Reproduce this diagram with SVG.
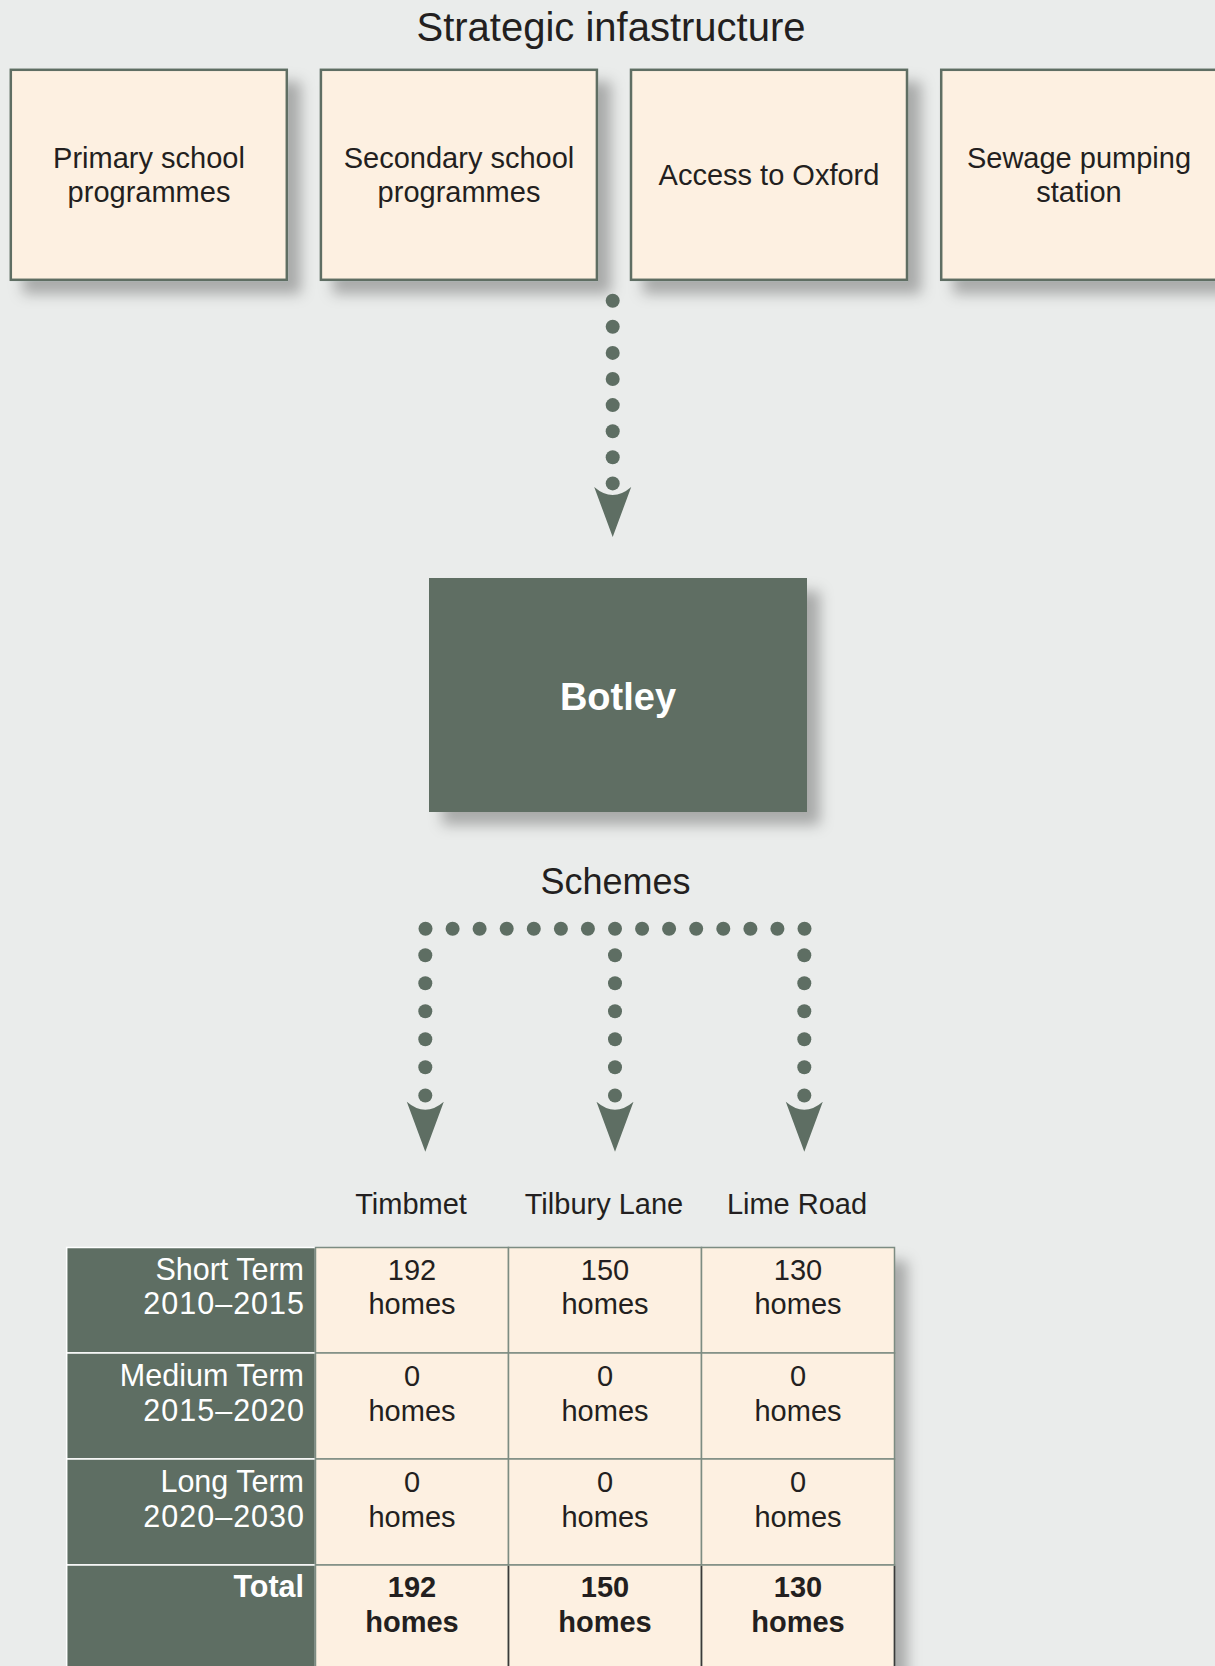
<svg xmlns="http://www.w3.org/2000/svg" width="1215" height="1666" viewBox="0 0 1215 1666">
<defs>
<filter id="sh" x="-10%" y="-10%" width="130%" height="130%">
<feGaussianBlur in="SourceAlpha" stdDeviation="7"/>
<feOffset dx="13" dy="13" result="b"/>
<feFlood flood-color="#000" flood-opacity="0.28"/>
<feComposite in2="b" operator="in"/>
<feMerge><feMergeNode/><feMergeNode in="SourceGraphic"/></feMerge>
</filter>
<g id="dot"><circle r="7" fill="#5e6e63"/></g>
<path id="ah" d="M-18.5,0 Q0,16 18.5,0 L0,50 Z" fill="#5e6e63"/>
<style>
.t{font-family:"Liberation Sans",Arial,sans-serif;fill:#231f20;}
.box{fill:#fdf0e1;stroke:#5e6e63;stroke-width:2.5;}
.c{font-size:29px;text-anchor:middle;}
.h{font-size:30.5px;text-anchor:end;fill:#fff;font-family:"Liberation Sans",Arial,sans-serif;}
.y{letter-spacing:1px;}
.cell{fill:#fdf0e1;stroke:#7d8c82;stroke-width:1.5;}
.rh{fill:#5e6e63;stroke:#fff;stroke-width:1.5;}
</style>
</defs>
<rect width="1215" height="1666" fill="#eaeceb"/>
<text class="t" x="611" y="41" font-size="40" text-anchor="middle">Strategic infastructure</text>

<g id="n-primary"><rect class="box" x="10.8" y="69.8" width="276" height="210" filter="url(#sh)"/>
<text class="t c" x="149" y="168">Primary school</text><text class="t c" x="149" y="202">programmes</text></g>
<g id="n-secondary"><rect class="box" x="320.9" y="69.8" width="276" height="210" filter="url(#sh)"/>
<text class="t c" x="459" y="168">Secondary school</text><text class="t c" x="459" y="202">programmes</text></g>
<g id="n-access"><rect class="box" x="631" y="69.8" width="276" height="210" filter="url(#sh)"/>
<text class="t c" x="769" y="185">Access to Oxford</text></g>
<g id="n-sewage"><rect class="box" x="941.2" y="69.8" width="276" height="210" filter="url(#sh)"/>
<text class="t c" x="1079" y="168">Sewage pumping</text><text class="t c" x="1079" y="202">station</text></g>

<g id="n-botley"><rect x="429" y="578" width="378" height="234" fill="#5e6e63" filter="url(#sh)"/>
<text x="618" y="710" font-family="Liberation Sans,Arial,sans-serif" font-weight="bold" font-size="38" fill="#fff" text-anchor="middle">Botley</text></g>

<text class="t" x="615.5" y="894" font-size="36" text-anchor="middle">Schemes</text>

<g id="connectors">
<use href="#dot" x="612.7" y="300.7"/><use href="#dot" x="612.7" y="326.8"/><use href="#dot" x="612.7" y="352.9"/><use href="#dot" x="612.7" y="379"/><use href="#dot" x="612.7" y="405.1"/><use href="#dot" x="612.7" y="431.2"/><use href="#dot" x="612.7" y="457.3"/><use href="#dot" x="612.7" y="483.4"/>
<use href="#ah" x="612.7" y="487"/>
<use href="#dot" x="425.5" y="928.7"/><use href="#dot" x="452.6" y="928.7"/><use href="#dot" x="479.6" y="928.7"/><use href="#dot" x="506.7" y="928.7"/><use href="#dot" x="533.8" y="928.7"/><use href="#dot" x="560.9" y="928.7"/><use href="#dot" x="587.9" y="928.7"/><use href="#dot" x="615" y="928.7"/><use href="#dot" x="642.1" y="928.7"/><use href="#dot" x="669.1" y="928.7"/><use href="#dot" x="696.2" y="928.7"/><use href="#dot" x="723.3" y="928.7"/><use href="#dot" x="750.4" y="928.7"/><use href="#dot" x="777.4" y="928.7"/><use href="#dot" x="804.5" y="928.7"/>
<use href="#dot" x="425.3" y="955.3"/><use href="#dot" x="425.3" y="983.3"/><use href="#dot" x="425.3" y="1011.3"/><use href="#dot" x="425.3" y="1039.3"/><use href="#dot" x="425.3" y="1067.3"/><use href="#dot" x="425.3" y="1095.5"/>
<use href="#dot" x="615" y="955.3"/><use href="#dot" x="615" y="983.3"/><use href="#dot" x="615" y="1011.3"/><use href="#dot" x="615" y="1039.3"/><use href="#dot" x="615" y="1067.3"/><use href="#dot" x="615" y="1095.5"/>
<use href="#dot" x="804.3" y="955.3"/><use href="#dot" x="804.3" y="983.3"/><use href="#dot" x="804.3" y="1011.3"/><use href="#dot" x="804.3" y="1039.3"/><use href="#dot" x="804.3" y="1067.3"/><use href="#dot" x="804.3" y="1095.5"/>
<use href="#ah" x="425.3" y="1101.7"/><use href="#ah" x="615" y="1101.7"/><use href="#ah" x="804.3" y="1101.7"/>
</g>

<g id="col-headers">
<text class="t c" x="411" y="1214">Timbmet</text>
<text class="t c" x="604" y="1214">Tilbury Lane</text>
<text class="t c" x="797" y="1214">Lime Road</text>
</g>

<g id="table">
<rect x="315.5" y="1247.5" width="579" height="440" fill="#fdf0e1" filter="url(#sh)"/>
<rect class="rh" x="66.7" y="1247.5" width="248.8" height="105.5"/>
<rect class="rh" x="66.7" y="1353" width="248.8" height="106"/>
<rect class="rh" x="66.7" y="1459" width="248.8" height="106"/>
<rect class="rh" x="66.7" y="1565" width="248.8" height="120"/>
<rect class="cell" x="315.5" y="1247.5" width="193" height="105.5"/><rect class="cell" x="508.5" y="1247.5" width="193" height="105.5"/><rect class="cell" x="701.5" y="1247.5" width="193" height="105.5"/>
<rect class="cell" x="315.5" y="1353" width="193" height="106"/><rect class="cell" x="508.5" y="1353" width="193" height="106"/><rect class="cell" x="701.5" y="1353" width="193" height="106"/>
<rect class="cell" x="315.5" y="1459" width="193" height="106"/><rect class="cell" x="508.5" y="1459" width="193" height="106"/><rect class="cell" x="701.5" y="1459" width="193" height="106"/>
<rect class="cell" x="315.5" y="1565" width="193" height="120"/><rect class="cell" x="508.5" y="1565" width="193" height="120"/><rect class="cell" x="701.5" y="1565" width="193" height="120"/>
<line x1="508.5" y1="1566" x2="508.5" y2="1666" stroke="#3a3a3a" stroke-width="1.5"/>
<line x1="701.5" y1="1566" x2="701.5" y2="1666" stroke="#3a3a3a" stroke-width="1.5"/>
<line x1="894.5" y1="1566" x2="894.5" y2="1666" stroke="#3a3a3a" stroke-width="1.5"/>

<text class="h" x="304" y="1279.5">Short Term</text><text class="h y" x="305" y="1314">2010–2015</text>
<text class="h" x="304" y="1385.5">Medium Term</text><text class="h y" x="305" y="1420.5">2015–2020</text>
<text class="h" x="304" y="1491.5">Long Term</text><text class="h y" x="305" y="1526.5">2020–2030</text>
<text class="h" x="304" y="1597" font-weight="bold">Total</text>

<text class="t c" x="412" y="1279.5">192</text><text class="t c" x="412" y="1314">homes</text>
<text class="t c" x="605" y="1279.5">150</text><text class="t c" x="605" y="1314">homes</text>
<text class="t c" x="798" y="1279.5">130</text><text class="t c" x="798" y="1314">homes</text>
<text class="t c" x="412" y="1385.5">0</text><text class="t c" x="412" y="1420.5">homes</text>
<text class="t c" x="605" y="1385.5">0</text><text class="t c" x="605" y="1420.5">homes</text>
<text class="t c" x="798" y="1385.5">0</text><text class="t c" x="798" y="1420.5">homes</text>
<text class="t c" x="412" y="1491.5">0</text><text class="t c" x="412" y="1526.5">homes</text>
<text class="t c" x="605" y="1491.5">0</text><text class="t c" x="605" y="1526.5">homes</text>
<text class="t c" x="798" y="1491.5">0</text><text class="t c" x="798" y="1526.5">homes</text>
<text class="t c" x="412" y="1597" font-weight="bold">192</text><text class="t c" x="412" y="1632" font-weight="bold">homes</text>
<text class="t c" x="605" y="1597" font-weight="bold">150</text><text class="t c" x="605" y="1632" font-weight="bold">homes</text>
<text class="t c" x="798" y="1597" font-weight="bold">130</text><text class="t c" x="798" y="1632" font-weight="bold">homes</text>
</g>
</svg>
